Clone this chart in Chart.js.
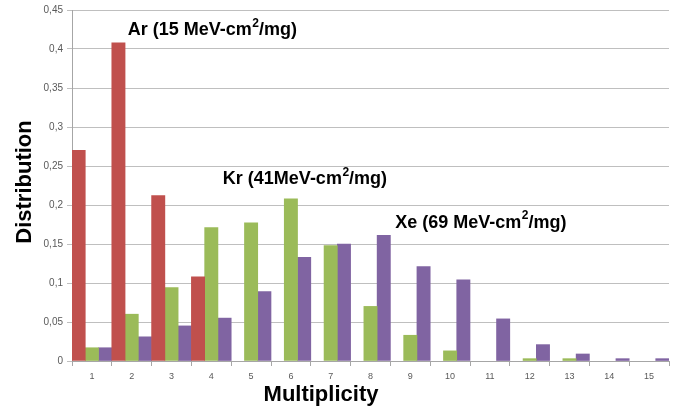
<!DOCTYPE html>
<html>
<head>
<meta charset="utf-8">
<script src="https://cdn.jsdelivr.net/npm/chart.js@4.4.1/dist/chart.umd.min.js"></script>
<style>
  html, body { margin: 0; padding: 0; background: #ffffff; }
  #wrap { width: 683px; height: 416px; position: relative; }
</style>
</head>
<body>
<div id="wrap"><canvas id="c" width="683" height="416"></canvas></div>
<script>
const categories = ['1','2','3','4','5','6','7','8','9','10','11','12','13','14','15'];
const arValues = [0.270, 0.408, 0.212, 0.108, null, null, null, null, null, null, null, null, null, null, null];
const krValues = [0.017, 0.060, 0.094, 0.171, 0.177, 0.208, 0.148, 0.070, 0.033, 0.013, null, 0.003, 0.003, null, null];
const xeValues = [0.017, 0.031, 0.045, 0.055, 0.089, 0.133, 0.150, 0.161, 0.121, 0.104, 0.054, 0.021, 0.009, 0.003, 0.003];
const yTicks = [0, 0.05, 0.1, 0.15, 0.2, 0.25, 0.3, 0.35, 0.4, 0.45];
const seriesNames = ['Ar', 'Kr', 'Xe'];
const annotations = [
  { pre: 'Ar (15 MeV-cm', post: '/mg)', xIndex: 0.9, yValue: 0.424 },
  { pre: 'Kr (41MeV-cm', post: '/mg)', xIndex: 3.29, yValue: 0.233 },
  { pre: 'Xe (69 MeV-cm', post: '/mg)', xIndex: 7.62, yValue: 0.177 }
];

const annotationPlugin = {
  id: 'annot',
  afterDatasetsDraw(chart) {
    const ctx = chart.ctx;
    const xs = chart.scales.x, ys = chart.scales.y;
    ctx.save();
    ctx.fillStyle = '#000000';
    ctx.textBaseline = 'middle';
    ctx.textAlign = 'left';
    annotations.forEach(a => {
      let x = xs.getPixelForValue(a.xIndex);
      const y = ys.getPixelForValue(a.yValue);
      ctx.font = 'bold 18px "Liberation Sans", Arial, sans-serif';
      ctx.fillText(a.pre, x, y);
      x += ctx.measureText(a.pre).width;
      ctx.font = 'bold 12px "Liberation Sans", Arial, sans-serif';
      ctx.fillText('2', x + 0.5, y - 7);
      x += ctx.measureText('2').width + 0.5;
      ctx.font = 'bold 18px "Liberation Sans", Arial, sans-serif';
      ctx.fillText(a.post, x, y);
    });
    // axis titles
    ctx.font = 'bold 22px "Liberation Sans", Arial, sans-serif';
    ctx.textAlign = 'center';
    ctx.fillText('Multiplicity', 321, 395);
    ctx.translate(25, 182);
    ctx.rotate(-Math.PI / 2);
    ctx.fillText('Distribution', 0, 0);
    ctx.restore();
  }
};

new Chart(document.getElementById('c'), {
  type: 'bar',
  data: {
    labels: categories,
    datasets: [
      { label: seriesNames[0], data: arValues, backgroundColor: '#C0504D' },
      { label: seriesNames[1], data: krValues, backgroundColor: '#9BBB59' },
      { label: seriesNames[2], data: xeValues, backgroundColor: '#8064A2' }
    ]
  },
  options: {
    responsive: false,
    animation: false,
    layout: { padding: { top: 5, right: 14, left: 0, bottom: 0 } },
    datasets: { bar: { categoryPercentage: 1.0, barPercentage: 1.0 } },
    plugins: { legend: { display: false }, tooltip: { enabled: false } },
    scales: {
      x: {
        grid: { offset: true, drawOnChartArea: false, drawTicks: true, tickLength: 5, color: '#A6A6A6' },
        border: { color: '#A6A6A6' },
        ticks: { color: '#595959', font: { size: 9, family: '"Liberation Sans", Arial, sans-serif' }, padding: 5, maxRotation: 0 },
        afterFit(s) { s.height = 55; }
      },
      y: {
        min: 0, max: 0.45,
        afterBuildTicks(s) { s.ticks = yTicks.map(v => ({ value: v })); },
        grid: { color: '#BFBFBF', tickLength: 5, drawTicks: true },
        border: { color: '#A6A6A6' },
        ticks: {
          color: '#595959',
          font: { size: 10, family: '"Liberation Sans", Arial, sans-serif' },
          padding: 4,
          callback: v => String(Number(v.toFixed(2))).replace('.', ',')
        },
        afterFit(s) { s.width = 72; }
      }
    }
  },
  plugins: [annotationPlugin]
});
</script>
</body>
</html>
